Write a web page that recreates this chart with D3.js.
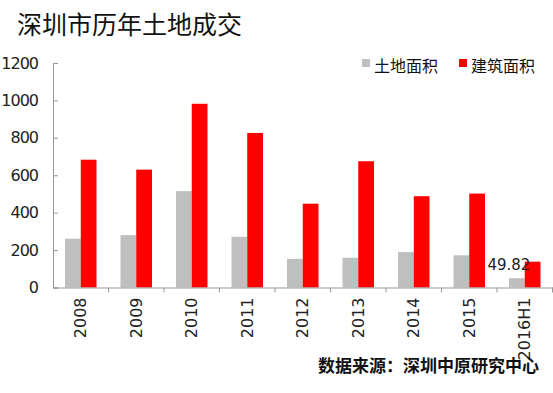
<!DOCTYPE html>
<html>
<head>
<meta charset="utf-8">
<script src="https://cdn.jsdelivr.net/npm/d3@7"></script>
<style>
  body { margin: 0; background: #fff; }
  svg { display: block; }
  text { font-family: "Liberation Sans", "DejaVu Sans", sans-serif; }
  .cjk { font-family: "Noto Sans CJK SC", sans-serif; }
</style>
</head>
<body>
<div id="chart"></div>
<script>
"use strict";

var years = ["2008", "2009", "2010", "2011", "2012", "2013", "2014", "2015", "2016H1"];
var landArea = [261, 280, 515, 271, 153, 159, 189, 172, 49.82];
var buildArea = [683, 630, 982, 826, 448, 675, 488, 502, 138];
var seriesNames = ["土地面积", "建筑面积"];
var seriesColors = ["#bfbfbf", "#ff0000"];
var yTicks = [0, 200, 400, 600, 800, 1000, 1200];

var W = 553, H = 393;
var svg = d3.select("#chart").append("svg")
    .attr("width", W)
    .attr("height", H);

var x = d3.scaleBand()
    .domain(years)
    .range([53, 552.5]);

var inner = d3.scaleBand()
    .domain([0, 1])
    .range([12, x.bandwidth() - 12]);

var y = d3.scaleLinear()
    .domain([0, 1200])
    .range([287.5, 63]);

// title
svg.append("text")
    .attr("class", "cjk")
    .attr("x", 17)
    .attr("y", 34)
    .style("font-size", "25px")
    .style("fill", "#111")
    .text("深圳市历年土地成交");

// bars
var rows = years.map(function(d, i) {
    return { year: d, values: [landArea[i], buildArea[i]] };
});

var groups = svg.append("g").selectAll("g")
    .data(rows)
    .enter().append("g")
    .attr("transform", function(d) {
        return "translate(" + x(d.year) + ",0)";
    });

groups.selectAll("rect")
    .data(function(d) { return d.values; })
    .enter().append("rect")
    .attr("x", function(d, j) { return inner(j); })
    .attr("width", inner.bandwidth())
    .attr("y", function(d) { return y(d); })
    .attr("height", function(d) { return y(0) - y(d); })
    .style("fill", function(d, j) { return seriesColors[j]; });

// y axis
var yAxis = svg.append("g")
    .attr("transform", "translate(53,0)")
    .call(d3.axisRight(y).tickValues(yTicks).tickSize(5).tickFormat(d3.format("d")));
yAxis.select(".domain").attr("stroke", "#999");
yAxis.selectAll(".tick line").attr("stroke", "#999");
yAxis.selectAll(".tick text")
    .attr("x", -15)
    .attr("text-anchor", "end")
    .style("font-size", "16px")
    .style("fill", "#222")
    .style("font-family", "DejaVu Sans, sans-serif")
    .style("letter-spacing", "-1px");

// x axis
var xAxis = svg.append("g")
    .attr("transform", "translate(0," + y(0) + ")")
    .call(d3.axisBottom(x).tickSize(0).tickSizeOuter(0));
xAxis.select(".domain").attr("stroke", "#999");
xAxis.selectAll(".tick text")
    .attr("transform", "rotate(-90)")
    .attr("x", -10)
    .attr("y", 0)
    .attr("dy", "0.35em")
    .attr("text-anchor", "end")
    .style("font-size", "16px")
    .style("fill", "#222")
    .style("font-family", "DejaVu Sans, sans-serif");

// boundary ticks between categories
svg.append("g").selectAll("line")
    .data(years.slice(1).concat(["end"]))
    .enter().append("line")
    .attr("x1", function(d, i) { return x(years[i]) + x.bandwidth(); })
    .attr("x2", function(d, i) { return x(years[i]) + x.bandwidth(); })
    .attr("y1", y(0))
    .attr("y2", y(0) + 5)
    .attr("stroke", "#999");

// data label for last land value
var last = years.length - 1;
svg.append("text")
    .attr("x", x(years[last]) + inner(0) + inner.bandwidth() / 2 - 8)
    .attr("y", y(landArea[last]) - 8)
    .attr("text-anchor", "middle")
    .style("font-size", "15px")
    .style("fill", "#222")
    .style("font-family", "DejaVu Sans, sans-serif")
    .text(d3.format(".2f")(landArea[last]));

// legend
var legendX = [362, 459];
var legend = svg.append("g").selectAll("g")
    .data(seriesNames)
    .enter().append("g")
    .attr("transform", function(d, i) { return "translate(" + legendX[i] + ",0)"; });
legend.append("rect")
    .attr("x", 0)
    .attr("y", 59)
    .attr("width", 8)
    .attr("height", 8)
    .style("fill", function(d, i) { return seriesColors[i]; });
legend.append("text")
    .attr("class", "cjk")
    .attr("x", 12)
    .attr("y", 72)
    .style("font-size", "16px")
    .style("fill", "#111")
    .text(function(d) { return d; });

// source
svg.append("text")
    .attr("class", "cjk")
    .attr("x", 318)
    .attr("y", 372)
    .style("font-size", "17px")
    .style("font-weight", "bold")
    .style("fill", "#111")
    .text("数据来源：深圳中原研究中心");
</script>
</body>
</html>
